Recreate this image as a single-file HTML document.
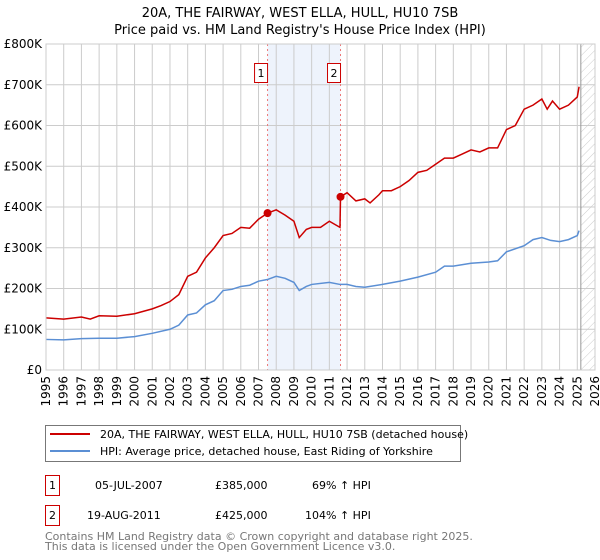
<!DOCTYPE html>
<html><head><meta charset="utf-8"><style>
body{margin:0;background:#fff;font-family:"DejaVu Sans","Liberation Sans",sans-serif;}
svg{display:block}
</style></head><body>
<svg id="c" width="600" height="560" xmlns="http://www.w3.org/2000/svg" font-family="DejaVu Sans, Liberation Sans, sans-serif">
<text x="300" y="17" text-anchor="middle" font-size="13">20A, THE FAIRWAY, WEST ELLA, HULL, HU10 7SB</text>
<text x="300" y="34" text-anchor="middle" font-size="13">Price paid vs. HM Land Registry's House Price Index (HPI)</text>
<g id="plot"></g>
<g>
<rect x="45.5" y="425.5" width="415" height="36" fill="#fff" stroke="#777"/>
<line x1="50" y1="434" x2="90" y2="434" stroke="#cc0000" stroke-width="2"/>
<text x="100" y="438" font-size="11">20A, THE FAIRWAY, WEST ELLA, HULL, HU10 7SB (detached house)</text>
<line x1="50" y1="451" x2="90" y2="451" stroke="#5b8fd4" stroke-width="2"/>
<text x="100" y="455" font-size="11">HPI: Average price, detached house, East Riding of Yorkshire</text>
</g>
<g font-size="11">
<rect x="45.5" y="475.5" width="14" height="20" fill="#fff" stroke="#cc0000"/>
<text x="52.5" y="489" text-anchor="middle">1</text>
<text x="95" y="489">05-JUL-2007</text><text x="215" y="489">£385,000</text><text x="312" y="489">69% ↑ HPI</text>
<rect x="45.5" y="505.5" width="14" height="20" fill="#fff" stroke="#cc0000"/>
<text x="52.5" y="519" text-anchor="middle">2</text>
<text x="87" y="519">19-AUG-2011</text><text x="215" y="519">£425,000</text><text x="305" y="519">104% ↑ HPI</text>
</g>
<text x="45" y="540" font-size="11" fill="#777">Contains HM Land Registry data © Crown copyright and database right 2025.</text>
<text x="45" y="550" font-size="11" fill="#777">This data is licensed under the Open Government Licence v3.0.</text>
</svg>
<script>
const yTicks=[0,100,200,300,400,500,600,700,800];
const yLabels=["£0","£100K","£200K","£300K","£400K","£500K","£600K","£700K","£800K"];
const xYears=[1995,1996,1997,1998,1999,2000,2001,2002,2003,2004,2005,2006,2007,2008,2009,2010,2011,2012,2013,2014,2015,2016,2017,2018,2019,2020,2021,2022,2023,2024,2025,2026];
const redT=[1995,1996,1997,1997.5,1998,1999,2000,2001,2001.5,2002,2002.5,2003,2003.5,2004,2004.5,2005,2005.5,2006,2006.5,2007,2007.51,2008,2008.5,2009,2009.3,2009.7,2010,2010.5,2011,2011.6,2011.63,2012,2012.5,2013,2013.3,2013.8,2014,2014.5,2015,2015.5,2016,2016.5,2017,2017.5,2018,2018.5,2019,2019.5,2020,2020.5,2021,2021.5,2022,2022.5,2023,2023.3,2023.6,2024,2024.5,2025,2025.1];
const redV=[128,125,130,125,133,132,138,150,158,168,185,230,240,275,300,330,335,350,348,370,385,393,380,365,325,345,350,350,365,350,425,435,415,420,410,430,440,440,450,465,485,490,505,520,520,530,540,535,545,545,590,600,640,650,665,640,660,640,650,670,695];
const hpiT=[1995,1996,1997,1998,1999,2000,2001,2002,2002.5,2003,2003.5,2004,2004.5,2005,2005.5,2006,2006.5,2007,2007.5,2008,2008.5,2009,2009.3,2009.7,2010,2011,2011.6,2012,2012.5,2013,2014,2015,2016,2017,2017.5,2018,2019,2020,2020.5,2021,2022,2022.5,2023,2023.5,2024,2024.5,2025,2025.1];
const hpiV=[75,74,77,78,78,82,90,100,110,135,140,160,170,195,198,205,208,218,222,230,225,215,195,205,210,215,210,210,205,203,210,218,228,240,255,255,262,265,268,290,305,320,325,318,315,320,330,342];
const saleT=[2007.51,2011.63];const saleV=[385,425];const saleLabels=["1","2"];
const L=46,R=595,T=44,B=370;
const X=t=>L+(t-1995)/(2026-1995)*(R-L);
const Y=v=>B-v/800*(B-T);
const NS="http://www.w3.org/2000/svg";
const g=document.getElementById('plot');
function mk(tag,a,p){const e=document.createElementNS(NS,tag);for(const k in a)e.setAttribute(k,a[k]);(p||g).appendChild(e);return e;}
// shaded band
let band=mk('rect',{x:X(saleT[0]),y:T,width:X(saleT[1])-X(saleT[0]),height:B-T,fill:'#eef3fc'});


// hatch future
const defs=mk('defs',{});
const pat=mk('pattern',{id:'h',width:6,height:6,patternUnits:'userSpaceOnUse',patternTransform:'rotate(45)'},defs);
mk('line',{x1:0,y1:0,x2:0,y2:6,stroke:'#ccc','stroke-width':1},pat);
let hat=mk('rect',{x:X(2025.2),y:T,width:R-X(2025.2),height:B-T,fill:'url(#h)'});


// grid
yTicks.forEach((v,i)=>{
 mk('line',{x1:L,x2:R,y1:Y(v),y2:Y(v),stroke:'#ccc'});
 let t=mk('text',{x:L-4,y:Y(v)+4,'text-anchor':'end','font-size':12});t.textContent=yLabels[i];
 
 
});
xYears.forEach(yr=>{
 mk('line',{x1:X(yr),x2:X(yr),y1:T,y2:B,stroke:'#ccc'});
 let t=mk('text',{x:0,y:0,'text-anchor':'end','font-size':12,transform:`translate(${X(yr)+4},${B+6}) rotate(-90)`});t.textContent=yr;
 
 
});
mk('line',{x1:X(2025.2),x2:X(2025.2),y1:T,y2:B,stroke:'#999'});
// sale markers lines
saleT.forEach((s,i)=>{
 mk('line',{x1:X(s),x2:X(s),y1:T,y2:B,stroke:'#e77','stroke-dasharray':'2,3'});
 let r=mk('rect',{x:X(s)-13,y:63.5,width:13,height:19,fill:'#fff',stroke:'#cc0000'});
 
 
 let t=mk('text',{x:X(s)-6.5,y:77,'text-anchor':'middle','font-size':11});t.textContent=saleLabels[i];
});
function line(ts,vs,col,name){
 let p=mk('polyline',{points:ts.map((t,i)=>X(t)+','+Y(vs[i])).join(' '),fill:'none',stroke:col,'stroke-width':1.5});
 
 
}
line(hpiT,hpiV,'#5b8fd4','hpi-line');
line(redT,redV,'#cc0000','property-price-line');
saleT.forEach((s,i)=>{
 let c=mk('circle',{cx:X(s),cy:Y(saleV[i]),r:4,fill:'#cc0000'});
 
 
});
mk('rect',{x:L,y:T,width:R-L,height:B-T,fill:'none',stroke:'#ccc'});
</script>
</body></html>
